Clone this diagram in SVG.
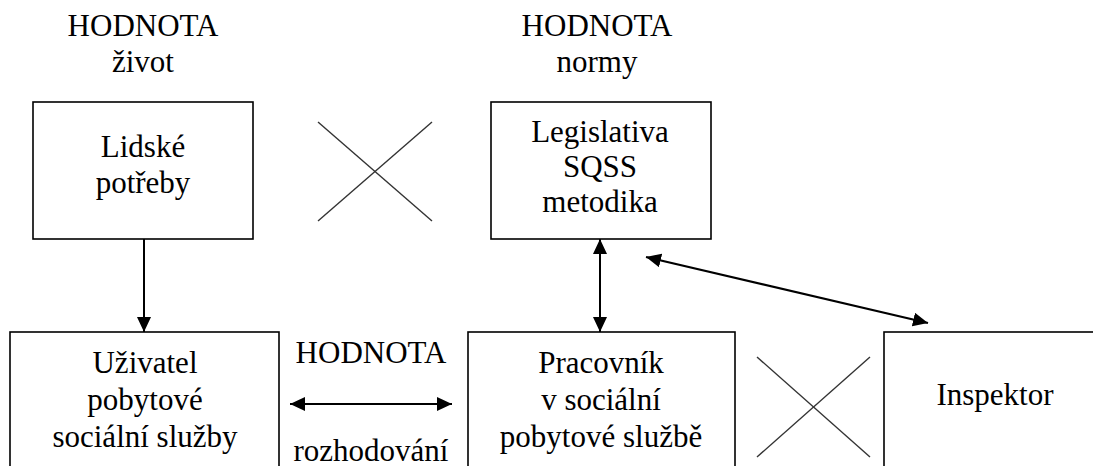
<svg xmlns="http://www.w3.org/2000/svg" width="1093" height="466" viewBox="0 0 1093 466">
  <style>
    .t { font-family: 'Liberation Serif', Tinos, 'Times New Roman', Times, 'DejaVu Serif', 'Noto Serif', FreeSerif, serif; font-size: 31px; fill: #000; text-anchor: middle; }
    .box { fill: #fff; stroke: #000; stroke-width: 1.6; }
    .cross { stroke: #333; stroke-width: 1.4; fill: none; }
    .arrow { stroke: #000; stroke-width: 2; fill: none; }
  </style>
  <defs>
    <marker id="head" markerUnits="userSpaceOnUse" markerWidth="16" markerHeight="14" refX="15" refY="7" orient="auto-start-reverse">
      <path d="M0,0 L15,7 L0,14 z" fill="#000"/>
    </marker>
  </defs>
  <rect width="1093" height="466" fill="#fff"/>

  <g id="label-zivot" class="t">
    <text x="143" y="36">HODNOTA</text>
    <text x="143" y="72">život</text>
  </g>
  <g id="label-normy" class="t">
    <text x="597" y="36">HODNOTA</text>
    <text x="597" y="72">normy</text>
  </g>

  <g id="node-potreby">
    <rect class="box" x="33" y="102" width="220" height="137"/>
    <g class="t">
      <text x="143" y="157">Lidské</text>
      <text x="143" y="193">potřeby</text>
    </g>
  </g>
  <g id="node-legislativa">
    <rect class="box" x="491" y="102" width="220" height="137"/>
    <g class="t">
      <text x="600" y="142">Legislativa</text>
      <text x="600" y="177">SQSS</text>
      <text x="600" y="212">metodika</text>
    </g>
  </g>

  <g id="cross-top">
    <line class="cross" x1="318" y1="122" x2="432" y2="221"/>
    <line class="cross" x1="318" y1="221" x2="432" y2="122"/>
  </g>

  <g id="node-uzivatel">
    <rect class="box" x="10" y="332" width="269" height="160"/>
    <g class="t">
      <text x="145" y="373">Uživatel</text>
      <text x="145" y="410">pobytové</text>
      <text x="145" y="447">sociální služby</text>
    </g>
  </g>
  <g id="label-rozhodovani" class="t">
    <text x="371" y="363">HODNOTA</text>
    <text x="371" y="461">rozhodování</text>
  </g>
  <g id="node-pracovnik">
    <rect class="box" x="468" y="332" width="267" height="160"/>
    <g class="t">
      <text x="601" y="373">Pracovník</text>
      <text x="601" y="410">v sociální</text>
      <text x="601" y="447">pobytové službě</text>
    </g>
  </g>
  <g id="cross-bottom">
    <line class="cross" x1="757" y1="357" x2="870" y2="457"/>
    <line class="cross" x1="757" y1="457" x2="870" y2="357"/>
  </g>
  <g id="node-inspektor">
    <rect class="box" x="884" y="332" width="230" height="160"/>
    <g class="t">
      <text x="995" y="405">Inspektor</text>
    </g>
  </g>

  <g id="connectors">
    <line class="arrow" x1="144" y1="239" x2="144" y2="332" marker-end="url(#head)"/>
    <line class="arrow" x1="600" y1="239" x2="600" y2="332" marker-start="url(#head)" marker-end="url(#head)"/>
    <line class="arrow" x1="646" y1="257" x2="928" y2="323" marker-start="url(#head)" marker-end="url(#head)"/>
    <line class="arrow" x1="290" y1="404" x2="452" y2="404" marker-start="url(#head)" marker-end="url(#head)"/>
  </g>
</svg>
